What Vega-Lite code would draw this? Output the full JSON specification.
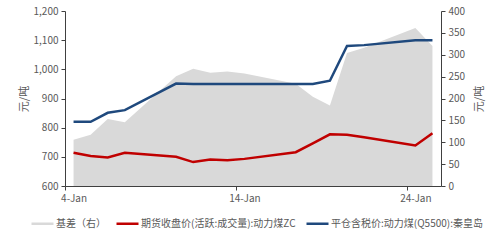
{
  "$schema": "https://vega.github.io/schema/vega-lite/v6.json",
  "width": 376,
  "height": 175,
  "autosize": {"type": "none"},
  "padding": {"left": 65, "top": 11, "right": 59, "bottom": 57},
  "background": "white",
  "config": {
    "view": {"stroke": null},
    "font": "Noto Sans CJK SC",
    "axis": {
      "grid": false,
      "domainColor": "#404040",
      "tickColor": "#404040",
      "tickSize": 4,
      "labelColor": "#595959",
      "labelFontSize": 10,
      "labelPadding": 3,
      "titleColor": "#595959",
      "titleFontSize": 11,
      "titleFontWeight": "normal"
    }
  },
  "data": {
    "values": [
      {"date": "2022-01-04", "basis": 106, "futures": 714, "spot": 820},
      {"date": "2022-01-05", "basis": 117, "futures": 703, "spot": 820},
      {"date": "2022-01-06", "basis": 153, "futures": 698, "spot": 851},
      {"date": "2022-01-07", "basis": 146, "futures": 714, "spot": 860},
      {"date": "2022-01-10", "basis": 251, "futures": 700, "spot": 951},
      {"date": "2022-01-11", "basis": 268, "futures": 682, "spot": 950},
      {"date": "2022-01-12", "basis": 259, "futures": 691, "spot": 950},
      {"date": "2022-01-13", "basis": 262, "futures": 688, "spot": 950},
      {"date": "2022-01-14", "basis": 257, "futures": 693, "spot": 950},
      {"date": "2022-01-17", "basis": 234, "futures": 716, "spot": 950},
      {"date": "2022-01-18", "basis": 204, "futures": 746, "spot": 950},
      {"date": "2022-01-19", "basis": 184, "futures": 777, "spot": 961},
      {"date": "2022-01-20", "basis": 304, "futures": 776, "spot": 1080},
      {"date": "2022-01-21", "basis": 316, "futures": 767, "spot": 1083},
      {"date": "2022-01-24", "basis": 361, "futures": 739, "spot": 1100},
      {"date": "2022-01-25", "basis": 320, "futures": 781, "spot": 1100}
    ]
  },
  "encoding": {
    "x": {
      "field": "date",
      "type": "temporal",
      "title": null,
      "scale": {
        "type": "utc",
        "domain": [
          {"year": 2022, "month": 1, "date": 3, "hours": 12, "utc": true},
          {"year": 2022, "month": 1, "date": 25, "hours": 12, "utc": true}
        ]
      },
      "axis": {
        "values": [
          {"year": 2022, "month": 1, "date": 4, "utc": true},
          {"year": 2022, "month": 1, "date": 14, "utc": true},
          {"year": 2022, "month": 1, "date": 24, "utc": true}
        ],
        "format": "%-d-%b",
        "tickOffset": -8.55,
        "labelOffset": 8.55,
        "labelAngle": 0
      }
    }
  },
  "layer": [
    {
      "mark": {"type": "area", "opacity": 1},
      "encoding": {
        "y": {
          "field": "basis",
          "type": "quantitative",
          "scale": {"domain": [0, 400], "nice": false, "zero": true},
          "axis": {
            "orient": "right",
            "values": [0, 50, 100, 150, 200, 250, 300, 350, 400],
            "format": ".0f",
            "title": "元/吨",
            "titleAngle": 270,
            "titlePadding": 20
          }
        },
        "color": {
          "datum": "基差（右）",
          "type": "nominal",
          "scale": {
            "domain": ["基差（右）", "期货收盘价(活跃:成交量):动力煤ZC", "平仓含税价:动力煤(Q5500):秦皇岛"],
            "range": ["#d9d9d9", "#c00000", "#1f497d"]
          },
          "legend": {
            "orient": "none",
            "legendX": -35,
            "legendY": 200,
            "direction": "horizontal",
            "title": null,
            "symbolType": "stroke",
            "symbolSize": 484,
            "symbolStrokeWidth": 2.5,
            "labelFontSize": 10,
            "labelColor": "#595959",
            "labelOffset": 1,
            "columnPadding": 5,
            "encode": {
              "symbols": {
                "update": {
                  "fill": {"value": "transparent"},
                  "stroke": {"scale": "color", "field": "value"},
                  "strokeWidth": {"signal": "datum.value === '基差（右）' ? 6 : 2.5"},
                  "opacity": {"value": 1}
                }
              }
            }
          }
        }
      }
    },
    {
      "layer": [
        {
          "mark": {"type": "line", "strokeWidth": 2.5},
          "encoding": {
            "y": {
              "field": "futures",
              "type": "quantitative",
              "scale": {"domain": [600, 1200], "nice": false, "zero": false},
              "axis": {"orient": "left", "values": [600, 700, 800, 900, 1000, 1100, 1200], "format": ",.0f", "title": "元/吨", "titlePadding": 4}
            },
            "color": {"datum": "期货收盘价(活跃:成交量):动力煤ZC", "type": "nominal"}
          }
        },
        {
          "mark": {"type": "line", "strokeWidth": 2.5},
          "encoding": {
            "y": {
              "field": "spot",
              "type": "quantitative",
              "scale": {"domain": [600, 1200], "nice": false, "zero": false},
              "axis": {"orient": "left", "values": [600, 700, 800, 900, 1000, 1100, 1200], "format": ",.0f", "title": "元/吨", "titlePadding": 4}
            },
            "color": {"datum": "平仓含税价:动力煤(Q5500):秦皇岛", "type": "nominal"}
          }
        }
      ]
    }
  ],
  "resolve": {"scale": {"y": "independent"}, "axis": {"y": "independent"}}
}
